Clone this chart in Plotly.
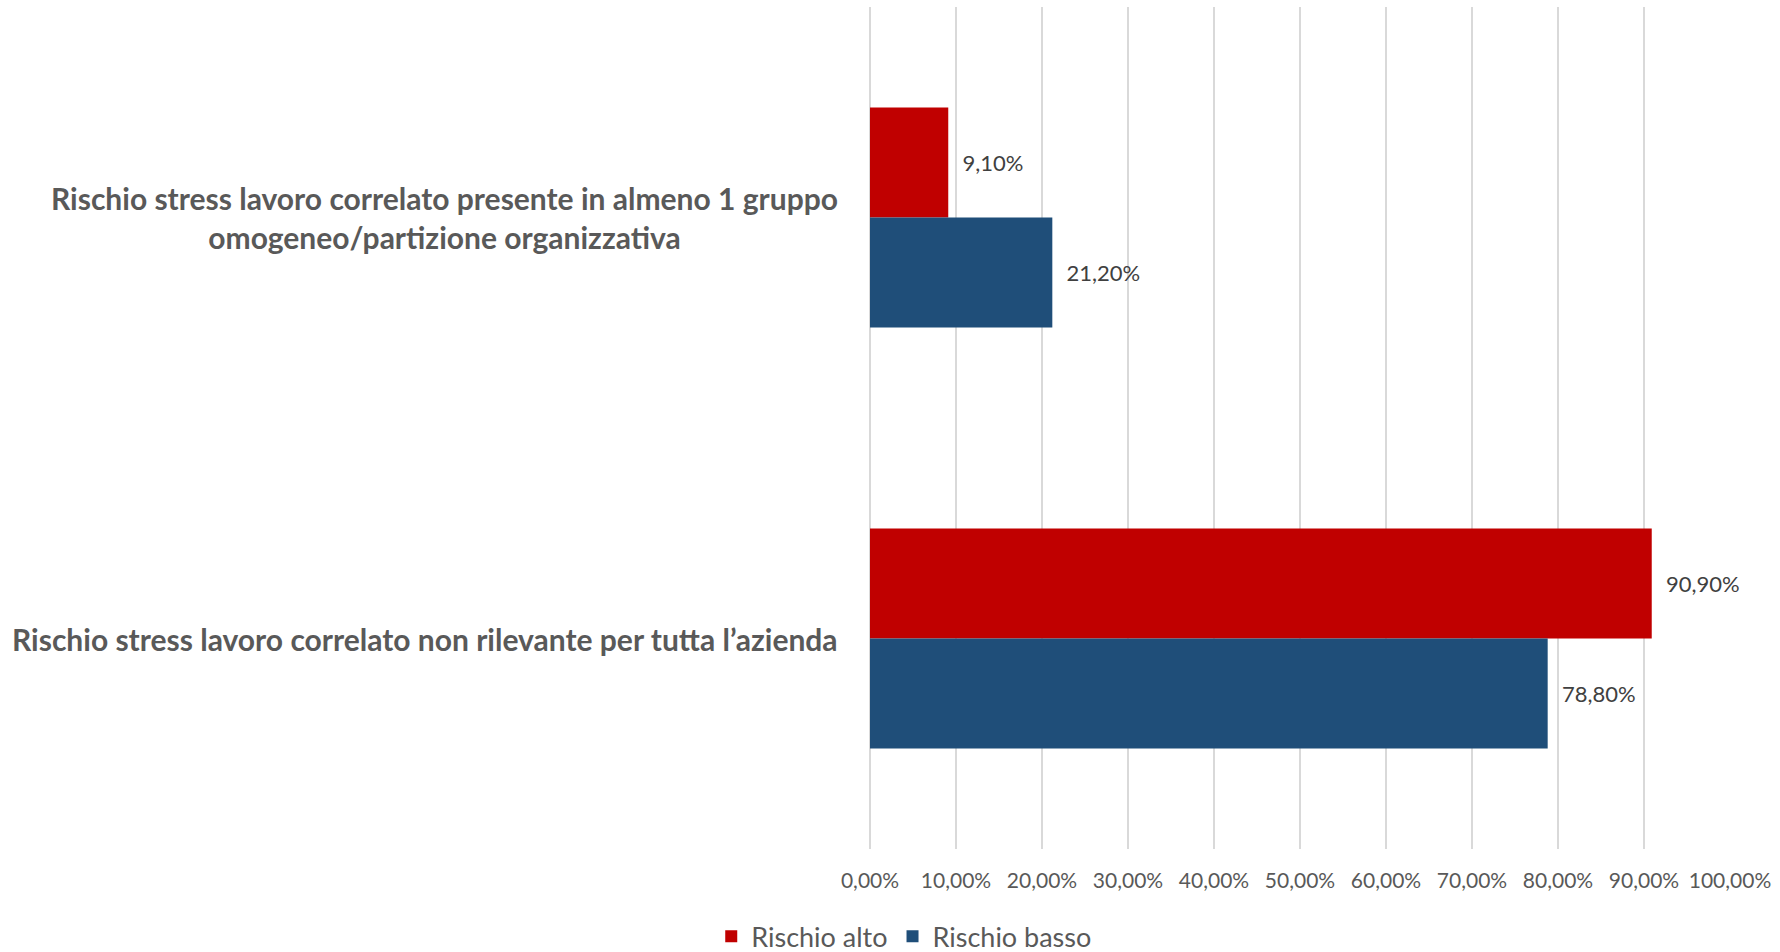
import plotly.graph_objects as go

# Survey outcome categories (top to bottom)
categories = [
    "Rischio stress lavoro correlato presente in almeno 1 gruppo<br>omogeneo/partizione organizzativa",
    "Rischio stress lavoro correlato non rilevante per tutta l\u2019azienda",
]
series_names = ["Rischio alto", "Rischio basso"]
rischio_alto = [9.10, 90.90]
rischio_basso = [21.20, 78.80]
x_ticks = [0, 10, 20, 30, 40, 50, 60, 70, 80, 90, 100]
x_tick_labels = [f"{v:.2f}".replace(".", ",") + "%" for v in x_ticks]

colors = ["#C00000", "#1F4E79"]
FONT = "Lato"
NBSP = "\u00a0\u00a0"

fig = go.Figure()
for name, vals, col in zip(series_names, [rischio_alto, rischio_basso], colors):
    fig.add_trace(go.Bar(
        y=categories,
        x=vals,
        name=name,
        orientation="h",
        marker=dict(color=col, line=dict(width=0)),
        texttemplate=NBSP + "%{x:.2f}%",
        textposition="outside",
        textfont=dict(family=FONT, size=22, color="#404040"),
        cliponaxis=False,
        hoverinfo="skip",
    ))

# Category labels, drawn as centred multi-line annotations to the left of the axis
for cat in categories:
    fig.add_annotation(
        x=0, xref="paper", y=cat, yref="y",
        text="<b>" + cat + "</b>",
        xanchor="right", yanchor="middle", xshift=-30,
        align="center", showarrow=False,
        font=dict(family=FONT, size=30, color="#595959"),
    )

fig.update_layout(
    width=1780, height=952,
    margin=dict(l=870, r=50, t=7, b=103),
    paper_bgcolor="white", plot_bgcolor="white",
    barmode="group",
    bargap=0.477, bargroupgap=0,
    separators=",.",
    font=dict(family=FONT, color="#595959"),
    legend=dict(
        orientation="h",
        xref="container", x=0.508, xanchor="center",
        yref="container", y=0.016, yanchor="middle",
        font=dict(family=FONT, size=27, color="#595959"),
        traceorder="normal",
        itemwidth=30,
    ),
    showlegend=True,
)

fig.update_xaxes(
    range=[0, 100],
    tickmode="array",
    tickvals=x_ticks,
    ticktext=x_tick_labels,
    showgrid=True, gridcolor="#D9D9D9", gridwidth=2,
    zeroline=True, zerolinecolor="#D9D9D9", zerolinewidth=2,
    showline=False,
    ticks="",
    ticklabelstandoff=17,
    tickfont=dict(family=FONT, size=21, color="#595959"),
)
fig.update_yaxes(
    range=[1.5, -0.5],
    showticklabels=False,
    showgrid=False, zeroline=False, showline=False,
    ticks="",
)

fig.write_html("out.html")
